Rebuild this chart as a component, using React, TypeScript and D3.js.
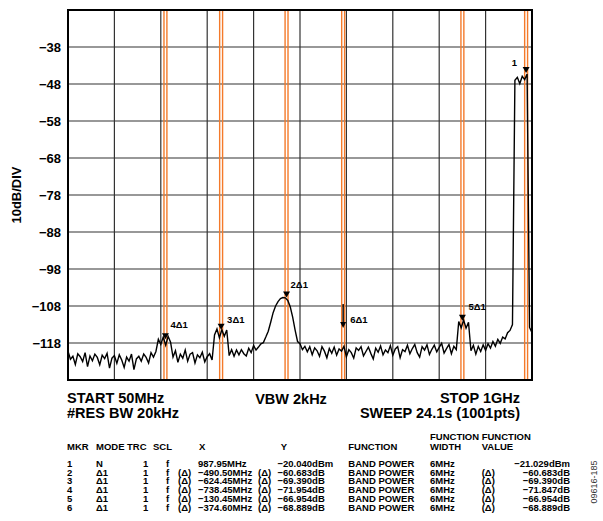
import React from 'react';
import * as d3 from 'd3';

// sweep settings
const startMHz = 50;
const stopMHz = 1000;
const stepMHz = 5;
const refLevelDb = -28;
const bottomLevelDb = -128;
const yTickLabels = [-38, -48, -58, -68, -78, -88, -98, -108, -118];

// trace, one value every 5MHz from 50MHz to 1GHz (graticule dB)
const traceDb = [
  -120.2, -122.4, -121.6, -123.8, -120.9, -121.7, -123.0, -120.6, -124.4, -121.5,
  -122.8, -121.0, -121.9, -123.9, -121.3, -122.2, -120.8, -124.8, -122.1, -121.4,
  -123.5, -121.2, -122.6, -124.6, -121.8, -122.9, -121.0, -125.2, -122.3, -121.6,
  -122.9, -121.0, -121.9, -123.4, -120.6, -121.8, -120.3, -117.0, -118.4, -116.4,
  -118.6, -116.2, -117.8, -121.8, -120.1, -123.2, -121.0, -122.1, -119.9, -122.9,
  -121.0, -120.6, -123.4, -121.2, -122.0, -120.5, -123.1, -121.7, -120.9, -122.6,
  -115.8, -114.2, -116.6, -114.4, -116.2, -114.5, -121.4, -119.8, -121.6, -119.9,
  -121.2, -119.8, -120.9, -121.5, -119.4, -120.6, -118.7, -119.9, -119.1, -118.2,
  -117.9, -116.4, -114.8, -112.4, -109.8, -108.0, -106.8, -106.0, -105.7, -105.8,
  -106.5, -108.2, -111.0, -114.5, -117.6, -118.2, -119.8, -118.9, -120.4, -119.0,
  -121.2, -119.3, -120.1, -121.6, -119.0, -120.2, -122.0, -119.5, -120.8, -119.1,
  -121.3, -119.6, -120.2, -118.9, -121.7, -119.8, -120.6, -122.1, -119.3, -120.0,
  -119.0, -121.5, -120.3, -119.1, -120.8, -122.3, -119.4, -120.5, -118.8, -121.2,
  -119.9, -120.6, -118.7, -121.3, -119.6, -119.0, -122.0, -119.8, -120.3, -118.6,
  -120.9, -119.5, -118.4, -120.6, -121.8, -119.0, -119.9, -118.5, -121.1, -119.7,
  -118.6, -120.4, -119.2, -118.1, -120.7, -119.5, -118.4, -120.9, -118.9, -119.8,
  -112.2, -113.9, -111.8, -114.0, -112.4, -120.1, -118.6, -121.0, -118.9, -120.3,
  -118.5, -120.0, -118.2, -119.4, -117.6, -118.9, -117.0, -118.1, -116.4, -116.9,
  -115.2, -114.6, -113.0, -47.0, -46.2, -47.9, -45.9, -46.8, -45.3, -113.8,
  -115.2,
];

// marker table
const markerIds = ['1', '2', '3', '4', '5', '6'];
const markerModes = ['N', 'Δ1', 'Δ1', 'Δ1', 'Δ1', 'Δ1'];
const markerXMHz = [987.95, -490.5, -624.45, -738.45, -130.45, -374.6];
const markerYdB = [-20.04, -60.683, -69.39, -71.954, -66.954, -68.889];
const functionValues = [-21.029, -60.683, -69.39, -71.847, -66.954, -68.889];
const bandWidthMHz = 6;
// readout vs graticule labels
const displayOffsetDb = -25;

// label placement next to each marker (dx, dy from the tip)
const labelOffsets = [
  [-9, -7], [4, -10], [6, -7], [5, -11], [6, -11], [7, -5],
];

const W = 603;
const H = 521;
const margin = { top: 10, right: 71, bottom: 141, left: 68 };
const FONT = "'Liberation Sans', Arial, Helvetica, sans-serif";
const ORANGE = '#f47a2a';

const App: React.FC = () => {
  const x = d3.scaleLinear()
    .domain([startMHz, stopMHz])
    .range([margin.left, W - margin.right]);
  const y = d3.scaleLinear()
    .domain([bottomLevelDb, refLevelDb])
    .range([H - margin.bottom, margin.top]);

  const trace = d3.line<number>()
    .x((_, i) => x(startMHz + i * stepMHz))
    .y(d => y(d));

  const vGrid = d3.range(1, 10).map(i => startMHz + (i * (stopMHz - startMHz)) / 10);

  const f2 = d3.format('.2f');
  const f3 = d3.format('.3f');

  const markers = markerIds.map((id, i) => {
    const freq = i === 0 ? markerXMHz[0] : markerXMHz[0] + markerXMHz[i];
    const lvl = i === 0
      ? markerYdB[0] + displayOffsetDb
      : markerYdB[0] + displayOffsetDb + markerYdB[i];
    return { id, freq, lvl, i };
  });

  const rowY = (i: number) => 466.7 + i * 8.8;

  return (
    <svg width={W} height={H} style={{ position: 'absolute', left: 0, top: 0, background: '#fff' }}
      fontFamily={FONT} fontWeight="bold">
      {/* grid */}
      {vGrid.map(f => (
        <line key={'v' + f} x1={x(f)} x2={x(f)} y1={y(refLevelDb)} y2={y(bottomLevelDb)}
          stroke="#333" strokeWidth={1.2} />
      ))}
      {yTickLabels.map(v => (
        <line key={'h' + v} x1={x(startMHz)} x2={x(stopMHz)} y1={y(v)} y2={y(v)}
          stroke="#333" strokeWidth={1.2} />
      ))}

      {/* band power boundaries */}
      {markers.map(m => (
        <g key={'b' + m.id}>
          <line x1={x(m.freq - bandWidthMHz / 2)} x2={x(m.freq - bandWidthMHz / 2)}
            y1={y(refLevelDb)} y2={y(bottomLevelDb)} stroke={ORANGE} strokeWidth={1.4} />
          <line x1={x(m.freq + bandWidthMHz / 2)} x2={x(m.freq + bandWidthMHz / 2)}
            y1={y(refLevelDb)} y2={y(bottomLevelDb)} stroke={ORANGE} strokeWidth={1.4} />
        </g>
      ))}

      {/* trace */}
      <path d={trace(traceDb) || ''} fill="none" stroke="#000" strokeWidth={1.4} strokeLinejoin="miter" />

      {/* markers */}
      {markers.map(m => {
        const mx = x(m.freq);
        const my = y(m.lvl);
        const [dx, dy] = labelOffsets[m.i];
        const label = m.i === 0 ? '1' : `${m.id}Δ1`;
        return (
          <g key={'m' + m.id}>
            {m.id === '6' ? (
              <g>
                <line x1={mx} x2={mx} y1={my - 24} y2={my - 5} stroke="#000" strokeWidth={1.4} />
                <path d={`M${mx - 3},${my - 6} L${mx + 3},${my - 6} L${mx},${my} Z`} fill="#000" />
              </g>
            ) : (
              <path d={`M${mx - 3.5},${my - 6} L${mx + 3.5},${my - 6} L${mx},${my} Z`} fill="#000" />
            )}
            <text x={mx + dx} y={my + dy} fontSize={9.5} textAnchor={m.i === 0 ? 'end' : 'start'}>
              {label}
            </text>
          </g>
        );
      })}

      {/* frame */}
      <rect x={margin.left} y={margin.top} width={W - margin.left - margin.right}
        height={H - margin.top - margin.bottom} fill="none" stroke="#000" strokeWidth={2} />

      {/* y axis */}
      {yTickLabels.map(v => (
        <text key={'t' + v} x={61} y={y(v) + 4.7} fontSize={13} textAnchor="end">
          {'\u2212' + Math.abs(v)}
        </text>
      ))}
      <text transform={`translate(21,195) rotate(-90)`} fontSize={13} textAnchor="middle">10dB/DIV</text>

      {/* sweep info */}
      <text x={67} y={402.5} fontSize={14.5}>START 50MHz</text>
      <text x={67} y={417.5} fontSize={14.5}>#RES BW 20kHz</text>
      <text x={291} y={404} fontSize={14.5} textAnchor="middle">VBW 2kHz</text>
      <text x={520} y={402.5} fontSize={14.5} textAnchor="end">STOP 1GHz</text>
      <text x={520} y={417.5} fontSize={14.5} textAnchor="end">SWEEP 24.1s (1001pts)</text>

      {/* marker table */}
      <g fontSize={9.5}>
        <text x={430} y={440}>FUNCTION</text>
        <text x={481.7} y={440}>FUNCTION</text>
        <text x={67} y={450}>MKR</text>
        <text x={96} y={450}>MODE</text>
        <text x={127} y={450}>TRC</text>
        <text x={153} y={450}>SCL</text>
        <text x={199} y={450}>X</text>
        <text x={280.7} y={450}>Y</text>
        <text x={348.3} y={450}>FUNCTION</text>
        <text x={430} y={450}>WIDTH</text>
        <text x={481.7} y={450}>VALUE</text>
        {markerIds.map((id, i) => (
          <g key={'r' + id}>
            <text x={67} y={rowY(i)}>{id}</text>
            <text x={96} y={rowY(i)}>{markerModes[i]}</text>
            <text x={143} y={rowY(i)}>1</text>
            <text x={166} y={rowY(i)}>f</text>
            {i > 0 && <text x={178} y={rowY(i)}>(Δ)</text>}
            <text x={198} y={rowY(i)}>{f2(markerXMHz[i])}MHz</text>
            {i > 0 && <text x={258} y={rowY(i)}>(Δ)</text>}
            <text x={277.5} y={rowY(i)}>{f3(markerYdB[i])}{i === 0 ? 'dBm' : 'dB'}</text>
            <text x={348.3} y={rowY(i)}>BAND POWER</text>
            <text x={430} y={rowY(i)}>{bandWidthMHz}MHz</text>
            {i > 0 && <text x={481.7} y={rowY(i)}>(Δ)</text>}
            <text x={570} y={rowY(i)} textAnchor="end">{f3(functionValues[i])}{i === 0 ? 'dBm' : 'dB'}</text>
          </g>
        ))}
      </g>
      <text transform="translate(597,482) rotate(-90)" fontSize={9} fontWeight="normal"
        textAnchor="middle" fill="#333">09616-185</text>
    </svg>
  );
};

export default App;
